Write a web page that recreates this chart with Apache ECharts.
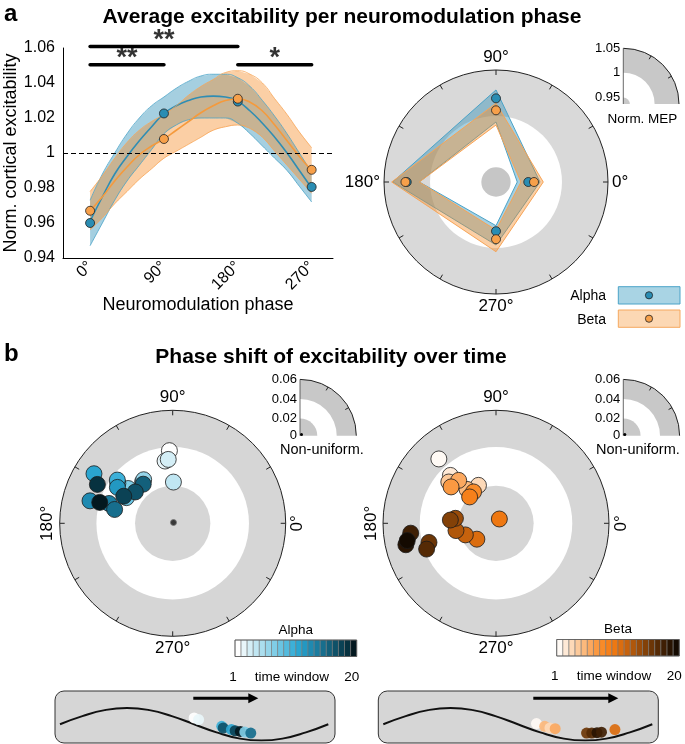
<!DOCTYPE html>
<html><head><meta charset="utf-8">
<script src="https://cdn.jsdelivr.net/npm/echarts@6/dist/echarts.min.js"></script>
<style>html,body{margin:0;padding:0;background:#fff}#c{width:685px;height:744px}</style>
</head><body><div id="c"></div>
<script>
// ---------------- data ----------------
const phaseTicks = [0, 90, 180, 270];
const alphaMean = [0.960, 1.0226, 1.0294, 0.9806];
const betaMean  = [0.967, 1.008, 1.031, 0.9904];

const fitPhase   = [0,15,30,45,60,75,90,105,120,135,150,165,180,195,210,225,240,255,270];
const alphaFit   = [0.961,0.975,0.988,0.998,1.007,1.015,1.0225,1.027,1.030,1.032,1.0325,1.032,1.0295,1.024,1.017,1.009,1.000,0.990,0.980];
const alphaFitHi = [0.973,0.988,1.000,1.011,1.020,1.027,1.032,1.037,1.041,1.044,1.045,1.045,1.043,1.038,1.030,1.021,1.011,1.000,0.989];
const alphaFitLo = [0.947,0.960,0.973,0.984,0.993,1.002,1.011,1.016,1.019,1.020,1.020,1.020,1.017,1.011,1.004,0.997,0.990,0.981,0.972];
const betaFit    = [0.967,0.975,0.984,0.992,0.999,1.004,1.008,1.013,1.018,1.023,1.027,1.030,1.031,1.029,1.024,1.016,1.007,0.998,0.990];
const betaFitHi  = [0.978,0.987,0.997,1.006,1.013,1.018,1.022,1.027,1.033,1.038,1.042,1.046,1.047,1.045,1.040,1.031,1.022,1.012,1.003];
const betaFitLo  = [0.956,0.963,0.971,0.978,0.985,0.991,0.997,1.001,1.005,1.009,1.013,1.015,1.016,1.014,1.009,1.001,0.993,0.985,0.977];

// significance brackets: [from, to, level, stars]
const sigFrom  = [0, 0, 180];
const sigTo    = [180, 90, 270];
const sigLevel = [1.0609, 1.0504, 1.0504];
const sigStars = ['**', '**', '*'];

// polar (panel a) confidence ring per phase
const polarAlphaHi = [0.9743, 1.0328, 1.0465, 0.9974];
const polarAlphaLo = [0.9466, 0.9938, 1.0141, 0.9739];
const polarBetaHi  = [0.9783, 1.0166, 1.0477, 1.0056];
const polarBetaLo  = [0.9511, 0.9901, 1.0141, 0.9792];

// panel b: non-uniformity (radius) and preferred phase (deg) per time window 1..20
const alphaShiftR     = [0.0386,0.0333,0.0340,0.0219,0.0272,0.0278,0.0300,0.0281,0.0360,0.0373,0.0494,0.0350,0.0455,0.0354,0.0317,0.0260,0.0259,0.0297,0.0450,0.0403];
const alphaShiftTheta = [92.6,97.0,94.0,89.0,126.0,123.7,142.0,151.0,144.0,142.0,147.8,147.0,164.8,162.7,166.6,127.0,140.0,151.0,152.7,164.0];
const betaShiftR      = [0.0457,0.0351,0.0222,0.0333,0.0237,0.0302,0.0307,0.0205,0.0198,0.0029,0.0132,0.0174,0.0216,0.0217,0.0243,0.0370,0.0393,0.0456,0.0492,0.0480];
const betaShiftTheta  = [131.6,133.6,114.8,138.8,130.5,131.0,141.0,125.6,135.0,52.0,219.7,200.7,190.3,173.0,175.9,195.9,200.4,186.6,193.4,191.0];

// schematic oscillation (phase, level) and inset markers
const wavePhase = [-90,-60,-30,0,30,60,90,120,150,180,210,240,270];
const waveLevel = [0,0.5,0.87,1,0.87,0.5,0,-0.5,-0.87,-1,-0.87,-0.5,0];
const insetAlphaPhase  = [90,96,127,129,140,145,152,158,166];
const insetAlphaLevel  = [0.39,0.29,-0.13,-0.23,-0.33,-0.40,-0.44,-0.48,-0.54];
const insetAlphaWindow = [1,2,10,17,11,18,20,7,15];
const insetBetaPhase   = [115,126,133,140,182,189,196,202,220];
const insetBetaLevel   = [0.04,-0.13,-0.23,-0.27,-0.54,-0.54,-0.52,-0.49,-0.33];
const insetBetaWindow  = [1,5,3,6,16,17,19,18,11];

// ---------------- styling ----------------
const FONT = 'Liberation Sans, Arial, Helvetica, sans-serif';
const alphaPal = ['#ffffff','#e9f6fa','#d4eef6','#c0e6f2','#abdeee','#95d5ea','#80cde6','#6ac4e2','#53badd','#3cb0d8','#2aa5d0','#2398c2','#1f8ab1','#1b7c9f','#176e8d','#13607b','#0f5168','#0b4255','#073240','#03181f'];
const betaPal  = ['#fffaf5','#fee9d6','#fdd9b8','#fcc99a','#fcb97c','#fba85f','#fa9942','#f98b28','#f6801a','#ee7812','#db6d0f','#c6620d','#b0570b','#9a4c0a','#834108','#6c3607','#552a05','#3f1f04','#291402','#140a01'];
const A = {fill:'rgba(40,140,180,0.42)', edge:'#4aa3c8', line:'#2f8db3', pt:'#2a8db3'};
const B = {fill:'rgba(245,140,40,0.42)', edge:'#f7a456', line:'#f59a3c', pt:'#f7a04a'};

function bandSeries(xs, lo, hi, col, z) {
  return {type:'custom', xAxisIndex:0, yAxisIndex:0, z, silent:true, clip:false,
    data: xs.map((x,i)=>[x, lo[i], hi[i]]), encode:{x:0, y:[1,2]},
    renderItem(params, api) {
      if (params.dataIndex !== 0) return null;
      const up = xs.map((x,i)=>api.coord([x, hi[i]]));
      const dn = xs.map((x,i)=>api.coord([x, lo[i]])).reverse();
      return {type:'polygon', shape:{points: up.concat(dn)}, style:{fill: col.fill, stroke:null}};
    }};
}
function edgeLine(xs, ys, color, z) {
  return {type:'line', xAxisIndex:0, yAxisIndex:0, z, data: xs.map((x,i)=>[x, ys[i]]), smooth:true,
    symbol:'none', silent:true, lineStyle:{color, width:0.8}};
}
function meanLine(xs, ys, color, z, extra) {
  return Object.assign({type:'line', xAxisIndex:0, yAxisIndex:0, z, data: xs.map((x,i)=>[x, ys[i]]), smooth:true,
    symbol:'none', silent:true, lineStyle:{color, width:1.6}}, extra||{});
}
function meanPts(vals, color, z) {
  return {type:'scatter', xAxisIndex:0, yAxisIndex:0, z, data: phaseTicks.map((p,i)=>[p, vals[i]]),
    symbolSize:9, itemStyle:{color, borderColor:'#222', borderWidth:0.8, opacity:1}, silent:true};
}
function ringSeries(polarIndex, fracs, outerCol, innerCol) {
  return {type:'custom', coordinateSystem:'polar', polarIndex, z:1, silent:true, data:[[0,0]],
    renderItem(params) {
      const cs = params.coordSys, R = cs.r;
      return {type:'group', children:[
        {type:'circle', shape:{cx:cs.cx, cy:cs.cy, r:R}, style:{fill:outerCol}},
        {type:'circle', shape:{cx:cs.cx, cy:cs.cy, r:R*fracs[1]}, style:{fill:'#fff'}},
        {type:'circle', shape:{cx:cs.cx, cy:cs.cy, r:R*fracs[0]}, style:{fill:innerCol}}
      ]};
    }};
}
function polarBand(lo, hi, col, z) {
  return {type:'custom', coordinateSystem:'polar', polarIndex:0, z, silent:true,
    data: phaseTicks.map((a,i)=>[hi[i], a]),
    renderItem(params, api) {
      if (params.dataIndex !== 0) return null;
      const outer = phaseTicks.map((a,i)=>api.coord([hi[i], a]));
      const inner = phaseTicks.map((a,i)=>api.coord([lo[i], a]));
      const pts = outer.concat([outer[0], inner[0]], inner.slice(1).reverse(), [inner[0]]);
      return {type:'group', children:[
        {type:'polygon', shape:{points:pts}, style:{fill:col.fill}},
        {type:'polygon', shape:{points:outer}, style:{fill:null, stroke:col.edge, lineWidth:1, lineJoin:'round'}},
        {type:'polygon', shape:{points:inner}, style:{fill:null, stroke:col.edge, lineWidth:1, lineJoin:'round'}}
      ]};
    }};
}
function polarPts(vals, color, z) {
  return {type:'scatter', coordinateSystem:'polar', polarIndex:0, z, silent:true,
    data: phaseTicks.map((a,i)=>[vals[i], a]), symbolSize:9,
    itemStyle:{color, borderColor:'#222', borderWidth:0.8, opacity:1}};
}
function shiftPts(polarIndex, rs, ths, pal) {
  return {type:'scatter', coordinateSystem:'polar', polarIndex, z:4, silent:true,
    data: rs.map((r,i)=>[r, ths[i]]), symbolSize:16,
    itemStyle:{color: p=>pal[p.dataIndex], borderColor:'#1a1a1a', borderWidth:0.8, opacity:1}};
}
function insetPts(gi, ph, lv, win, pal) {
  return {type:'scatter', xAxisIndex:gi, yAxisIndex:gi, z:6, silent:true,
    data: ph.map((p,i)=>[p, lv[i]]), symbolSize:11,
    itemStyle:{color: p=>pal[win[p.dataIndex]-1], opacity:0.92}};
}
function angleAx(polarIndex, fmt) {
  return {polarIndex, type:'value', min:0, max:360, interval:30, startAngle:0, clockwise:false, z:3,
    axisLine:{lineStyle:{color:'#222', width:1}},
    axisTick:{show:true, inside:true, length:5, lineStyle:{color:'#222', width:1}},
    splitLine:{show:false},
    axisLabel:{formatter:fmt, fontSize:17, margin:4, color:'#000', fontFamily:FONT}};
}

// ---------------- graphic helpers ----------------
function txt(t, x, y, size, o) {
  o = o || {};
  const al = o.align || 'center', va = o.valign || 'middle';
  return {type:'text', x, y, rotation:o.rot||0, z:20, silent:true,
    style:{text:t, font:(o.bold?'bold ':'')+size+'px '+FONT, fill:'#000',
      textAlign:al, textVerticalAlign:va, align:al, verticalAlign:va}};
}
function quarter(cx, cy, rDisk, r0, r1, labels, gray) {
  const els = [
    {type:'sector', z:10, silent:true, shape:{cx, cy, r0:0, r:rDisk, startAngle:-Math.PI/2, endAngle:0, clockwise:true}, style:{fill:gray}},
    {type:'sector', z:10, silent:true, shape:{cx, cy, r0, r:r1, startAngle:-Math.PI/2, endAngle:0, clockwise:true}, style:{fill:gray}},
    {type:'arc', z:11, silent:true, shape:{cx, cy, r:r1, startAngle:-Math.PI/2, endAngle:0, clockwise:true}, style:{stroke:'#222', lineWidth:1, fill:null}},
    {type:'line', z:11, silent:true, shape:{x1:cx, y1:cy-r1, x2:cx, y2:cy}, style:{stroke:'#444', lineWidth:0.8}}
  ];
  [30, 60].forEach(d => {
    const a = d*Math.PI/180;
    els.push({type:'line', z:11, silent:true, shape:{x1:cx+r1*Math.cos(a), y1:cy-r1*Math.sin(a), x2:cx+(r1-4)*Math.cos(a), y2:cy-(r1-4)*Math.sin(a)}, style:{stroke:'#222', lineWidth:1}});
  });
  labels.forEach(l => els.push(txt(l[0], cx-3, cy-l[1], 13, {align:'right'})));
  return els;
}
function colorbar(x0, y0, w, h, pal, title, cx) {
  const els = pal.map((c,i)=>({type:'rect', z:10, silent:true, shape:{x:x0+i*w, y:y0, width:w, height:h}, style:{fill:c, stroke:'#777', lineWidth:0.6}}));
  els.push({type:'rect', z:11, silent:true, shape:{x:x0, y:y0, width:w*pal.length, height:h}, style:{fill:null, stroke:'#555', lineWidth:0.8}});
  els.push(txt(title, cx, y0-10, 13.5));
  els.push(txt('1', x0-2, y0+37, 13.5));
  els.push(txt('time window', cx-4, y0+37, 13.5));
  els.push(txt('20', x0+w*pal.length-5, y0+37, 13.5));
  return els;
}
function arrow(x1, x2, y) {
  return [
    {type:'line', z:12, silent:true, shape:{x1, y1:y, x2:x2-8, y2:y}, style:{stroke:'#000', lineWidth:3}},
    {type:'polygon', z:12, silent:true, shape:{points:[[x2-10,y-5],[x2,y],[x2-10,y+5]]}, style:{fill:'#000'}}
  ];
}

const graphics = [].concat(
  [txt('a', 4, 14, 24, {bold:true, align:'left'}),
   txt('Average excitability per neuromodulation phase', 342, 17, 21, {bold:true}),
   txt('b', 4, 354, 24, {bold:true, align:'left'}),
   txt('Phase shift of excitability over time', 331, 357, 21, {bold:true})],
  quarter(623.3, 104, 6.5, 31.3, 55.7, [['1.05',55.7],['1',31.3],['0.95',7]], '#c8c8c8'),
  [txt('Norm. MEP', 642.5, 119.5, 13.5)],
  // legend panel a
  [{type:'rect', z:10, silent:true, shape:{x:618.3, y:286.7, width:61.7, height:17.3}, style:{fill:'#a9d4e4', stroke:'#4aa3c8', lineWidth:1}},
   {type:'circle', z:11, silent:true, shape:{cx:649, cy:295.3, r:3.6}, style:{fill:A.pt, stroke:'#222', lineWidth:0.8}},
   {type:'rect', z:10, silent:true, shape:{x:618.3, y:310, width:61.7, height:17.3}, style:{fill:'#fcd8b4', stroke:'#f6a85e', lineWidth:1}},
   {type:'circle', z:11, silent:true, shape:{cx:649, cy:318.7, r:3.6}, style:{fill:B.pt, stroke:'#222', lineWidth:0.8}},
   txt('Alpha', 606, 296.5, 14, {align:'right'}),
   txt('Beta', 606, 320, 14, {align:'right'})],
  quarter(300, 435.7, 17.3, 36.7, 56.3, [['0.06',56],['0.04',36.7],['0.02',17.3],['0',0]], '#c8c8c8'),
  quarter(623.3, 435.7, 17.3, 36.7, 56.3, [['0.06',56],['0.04',36.7],['0.02',17.3],['0',0]], '#c8c8c8'),
  [{type:'circle', z:12, silent:true, shape:{cx:301.5, cy:434.5, r:1.5}, style:{fill:'#000'}},
   {type:'circle', z:12, silent:true, shape:{cx:624.8, cy:434.5, r:1.5}, style:{fill:'#000'}},
   txt('Non-uniform.', 280, 450, 14.5, {align:'left'}),
   txt('Non-uniform.', 596, 450, 14.5, {align:'left'}),
   txt('0°', 297.7, 523.3, 17, {rot:Math.PI/2}),
   txt('180°', 47.7, 523.3, 17, {rot:Math.PI/2}),
   txt('0°', 621, 523.3, 17, {rot:Math.PI/2}),
   txt('180°', 371, 523.3, 17, {rot:Math.PI/2})],
  colorbar(235, 640, 6.085, 16.5, alphaPal, 'Alpha', 295.8),
  colorbar(556.7, 639.5, 6.13, 16.5, betaPal, 'Beta', 618),
  [{type:'rect', z:0, silent:true, shape:{x:55, y:691, width:280, height:52, r:9}, style:{fill:'#d6d6d6', stroke:'#333', lineWidth:1}},
   {type:'rect', z:0, silent:true, shape:{x:378.3, y:691, width:280, height:52, r:9}, style:{fill:'#d6d6d6', stroke:'#333', lineWidth:1}}],
  arrow(193.3, 258.3, 698.3),
  arrow(533.3, 618.3, 698.3)
);

// ---------------- option ----------------
const series = [
  ringSeries(0, [0.131, 0.589], '#d9d9d9', '#c6c6c6'),
  ringSeries(1, [1/3, 0.675], '#d6d6d6', '#d6d6d6'),
  ringSeries(2, [1/3, 0.675], '#d6d6d6', '#d6d6d6'),
  // panel a, line chart: alpha
  bandSeries(fitPhase, alphaFitLo, alphaFitHi, A, 2),
  edgeLine(fitPhase, alphaFitHi, A.edge, 2),
  edgeLine(fitPhase, alphaFitLo, A.edge, 2),
  meanLine(fitPhase, alphaFit, A.line, 2, {markLine:{silent:true, symbol:'none', z:9, label:{show:false},
    lineStyle:{color:'#000', width:1.2, type:[5,3]}, data:[{yAxis:1}]}}),
  meanPts(alphaMean, A.pt, 2),
  // beta
  bandSeries(fitPhase, betaFitLo, betaFitHi, B, 2),
  edgeLine(fitPhase, betaFitHi, B.edge, 2),
  edgeLine(fitPhase, betaFitLo, B.edge, 2),
  meanLine(fitPhase, betaFit, B.line, 2),
  meanPts(betaMean, B.pt, 2)
];
sigFrom.forEach((f,i)=>{
  series.push({type:'line', xAxisIndex:0, yAxisIndex:0, z:8, clip:false, silent:true, symbol:'none',
    data:[[f, sigLevel[i]], [sigTo[i], sigLevel[i]]], lineStyle:{color:'#000', width:3.5, cap:'round'}});
});
series.push({type:'scatter', xAxisIndex:0, yAxisIndex:0, z:8, clip:false, silent:true, symbolSize:0,
  data: sigFrom.map((f,i)=>[(f+sigTo[i])/2, sigLevel[i], sigStars[i]]),
  label:{show:true, position:'inside', offset:[0,-6], formatter:p=>p.value[2], fontSize:27, fontWeight:'bold', color:'#000', fontFamily:FONT}});
// panel a polar
series.push(polarBand(polarAlphaLo, polarAlphaHi, A, 2));
series.push(polarPts(alphaMean, A.pt, 2));
series.push(polarBand(polarBetaLo, polarBetaHi, B, 2));
series.push(polarPts(betaMean, B.pt, 2));
// panel b polars
[1,2].forEach(pi=>series.push({type:'scatter', coordinateSystem:'polar', polarIndex:pi, z:3, silent:true,
  data:[[0.0006, 45]], symbolSize:6, itemStyle:{color:'#111', borderColor:'#777', borderWidth:1}}));
series.push(shiftPts(1, alphaShiftR, alphaShiftTheta, alphaPal));
series.push(shiftPts(2, betaShiftR, betaShiftTheta, betaPal));
// insets
[1,2].forEach(gi=>series.push({type:'line', xAxisIndex:gi, yAxisIndex:gi, z:5, silent:true, smooth:true, symbol:'none',
  data: wavePhase.map((p,i)=>[p, waveLevel[i]]), lineStyle:{color:'#111', width:2}}));
series.push(insetPts(1, insetAlphaPhase, insetAlphaLevel, insetAlphaWindow, alphaPal));
series.push(insetPts(2, insetBetaPhase, insetBetaLevel, insetBetaWindow, betaPal));

const option = {
  animation:false,
  backgroundColor:'#fff',
  textStyle:{fontFamily:FONT},
  grid:[
    {left:63, top:48, width:270, height:210},
    {left:60, top:708, width:268.3, height:32.5},
    {left:383.3, top:708, width:269, height:32.5}
  ],
  xAxis:[
    {gridIndex:0, type:'value', min:-33, max:296,
      axisLine:{onZero:false, lineStyle:{color:'#000', width:1}}, axisTick:{show:false}, splitLine:{show:false},
      axisLabel:{customValues:phaseTicks, formatter:v=>v+'°', rotate:45, fontSize:16, color:'#000', margin:6, fontFamily:FONT},
      name:'Neuromodulation phase', nameLocation:'middle', nameGap:38,
      nameTextStyle:{fontSize:18, color:'#000', fontFamily:FONT}},
    {gridIndex:1, type:'value', min:-90, max:270, show:false},
    {gridIndex:2, type:'value', min:-90, max:270, show:false}
  ],
  yAxis:[
    {gridIndex:0, type:'value', min:0.94, max:1.06, interval:0.02,
      axisLine:{show:true, onZero:false, lineStyle:{color:'#000', width:1}}, axisTick:{show:false}, splitLine:{show:false},
      axisLabel:{formatter:v=>Math.abs(v-1)<1e-9?'1':v.toFixed(2), fontSize:16, color:'#000', margin:8, fontFamily:FONT},
      name:'Norm. cortical excitability', nameLocation:'middle', nameGap:42,
      nameTextStyle:{fontSize:18, color:'#000', fontFamily:FONT}},
    {gridIndex:1, type:'value', min:-1, max:1, show:false},
    {gridIndex:2, type:'value', min:-1, max:1, show:false}
  ],
  polar:[
    {center:[496,182], radius:112},
    {center:[172.7,523.3], radius:113},
    {center:[496,523.3], radius:113}
  ],
  angleAxis:[
    angleAx(0, v=>(v%90===0 && v<360)? v+'°' : ''),
    angleAx(1, v=>(v===90||v===270)? v+'°' : ''),
    angleAx(2, v=>(v===90||v===270)? v+'°' : '')
  ],
  radiusAxis:[
    {polarIndex:0, type:'value', min:0.9207, max:1.0571, show:false},
    {polarIndex:1, type:'value', min:0, max:0.06, show:false},
    {polarIndex:2, type:'value', min:0, max:0.06, show:false}
  ],
  graphic:{elements:graphics},
  series
};
const chart = echarts.init(document.getElementById('c'), null, {renderer:'canvas', width:685, height:744});
chart.setOption(option);
</script>
</body></html>
